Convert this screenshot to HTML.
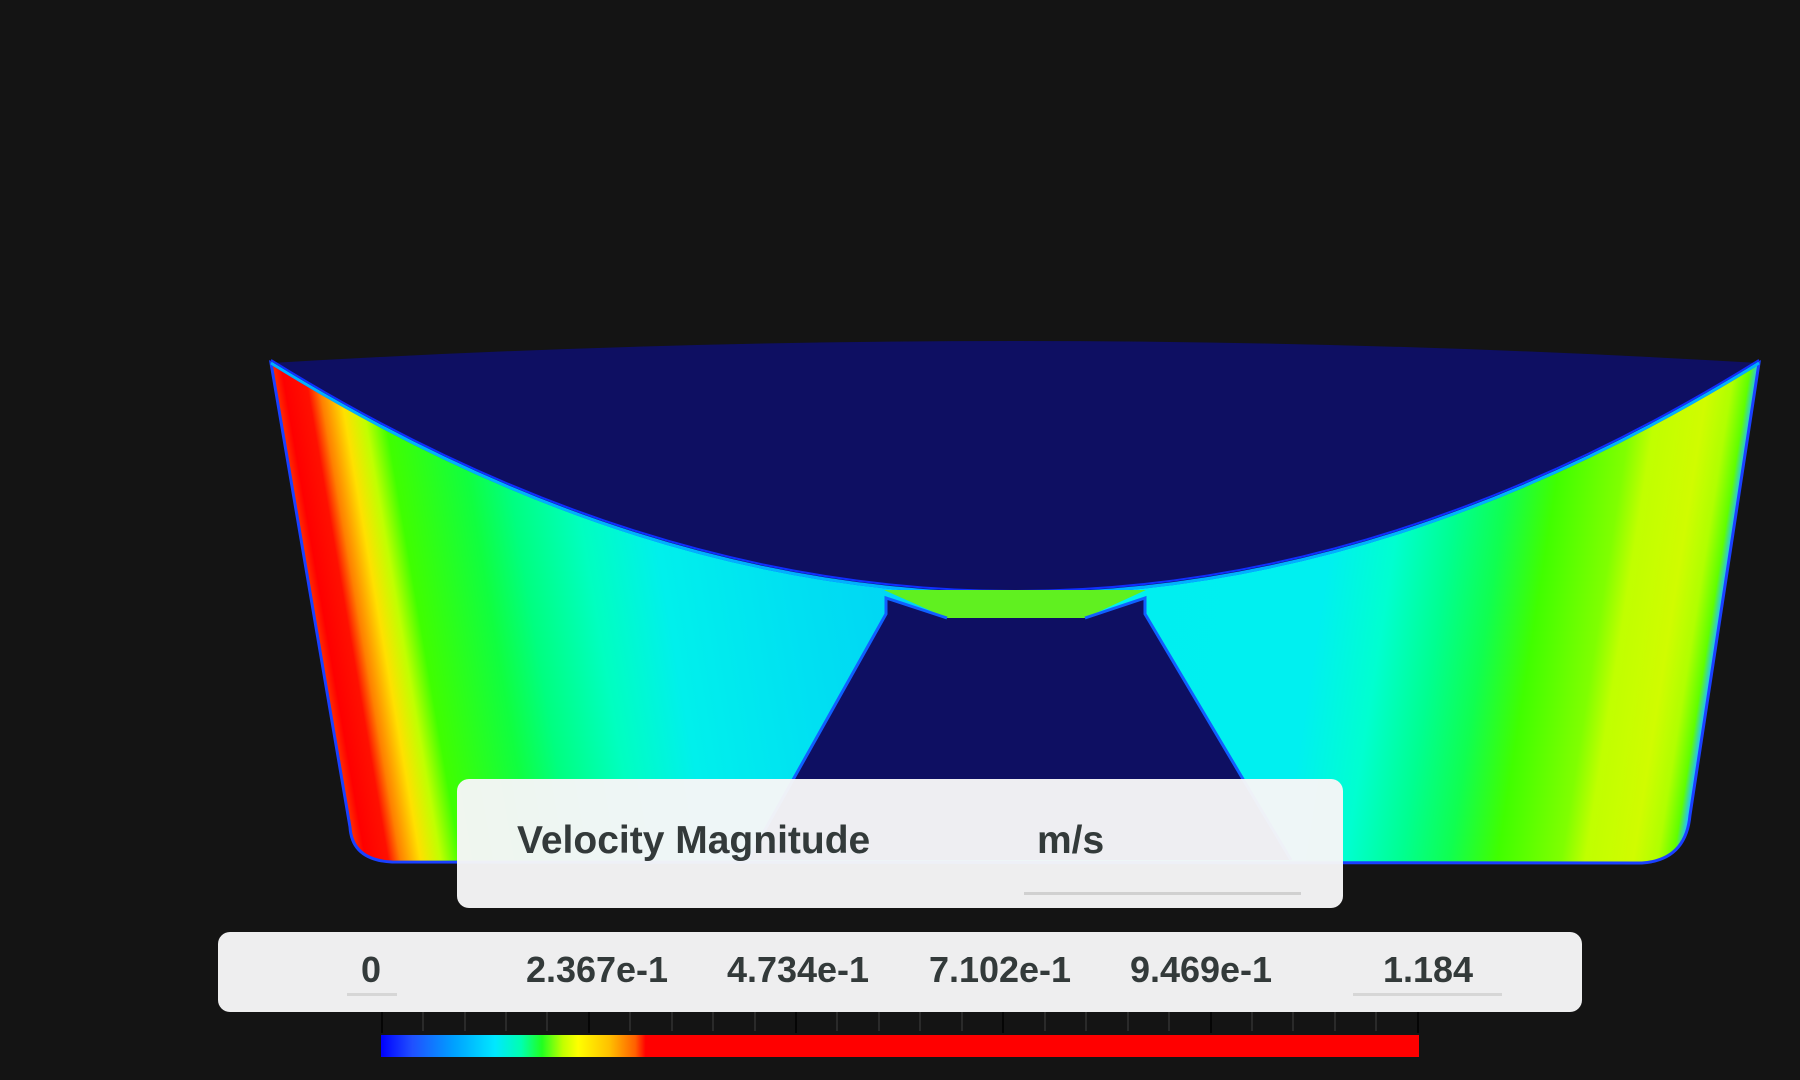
<!DOCTYPE html>
<html><head><meta charset="utf-8"><style>
html,body{margin:0;padding:0;background:#141414;width:1800px;height:1080px;overflow:hidden;font-family:"Liberation Sans",sans-serif}
.box{position:absolute;background:rgba(246,246,247,0.97);border-radius:12px}
.t{position:absolute;color:#333a3a;font-weight:bold;white-space:nowrap}
</style></head><body>
<svg width="1800" height="1080" style="position:absolute;left:0;top:0">
<defs>
<linearGradient id="fl" gradientUnits="userSpaceOnUse" x1="209" y1="0" x2="1016" y2="0" gradientTransform="skewX(9.7)">
<stop offset="0" stop-color="#ff3000"/>
<stop offset="0.012" stop-color="#ff0000"/>
<stop offset="0.04" stop-color="#ff1000"/>
<stop offset="0.055" stop-color="#ff8000"/>
<stop offset="0.08" stop-color="#ffe000"/>
<stop offset="0.105" stop-color="#c0ff00"/>
<stop offset="0.13" stop-color="#40ff00"/>
<stop offset="0.22" stop-color="#10ff40"/>
<stop offset="0.27" stop-color="#00ff80"/>
<stop offset="0.35" stop-color="#00ffc0"/>
<stop offset="0.44" stop-color="#00f0ec"/>
<stop offset="0.6" stop-color="#00e0f2"/>
<stop offset="0.75" stop-color="#00d4f4"/>
<stop offset="1" stop-color="#00d8f4"/>
</linearGradient>
<linearGradient id="fr" gradientUnits="userSpaceOnUse" x1="1816" y1="0" x2="1016" y2="0" gradientTransform="skewX(-8.9)">
<stop offset="0" stop-color="#20c0ff"/>
<stop offset="0.01" stop-color="#60ff00"/>
<stop offset="0.03" stop-color="#b0ff00"/>
<stop offset="0.06" stop-color="#d0fc00"/>
<stop offset="0.12" stop-color="#c0ff00"/>
<stop offset="0.15" stop-color="#80ff00"/>
<stop offset="0.23" stop-color="#40ff00"/>
<stop offset="0.29" stop-color="#10ff50"/>
<stop offset="0.35" stop-color="#00ff90"/>
<stop offset="0.42" stop-color="#00ffd0"/>
<stop offset="0.5" stop-color="#00f0f0"/>
<stop offset="1" stop-color="#00eef0"/>
</linearGradient>
<linearGradient id="cb" gradientUnits="userSpaceOnUse" x1="381" y1="0" x2="1419" y2="0">
<stop offset="0" stop-color="#0000ff"/>
<stop offset="0.03" stop-color="#2050ff"/>
<stop offset="0.07" stop-color="#00a0ff"/>
<stop offset="0.11" stop-color="#00e8ff"/>
<stop offset="0.135" stop-color="#00ffb0"/>
<stop offset="0.155" stop-color="#20ff20"/>
<stop offset="0.175" stop-color="#c0ff00"/>
<stop offset="0.19" stop-color="#ffff00"/>
<stop offset="0.22" stop-color="#ffc000"/>
<stop offset="0.245" stop-color="#ff6000"/>
<stop offset="0.255" stop-color="#ff0000"/>
<stop offset="1" stop-color="#ff0000"/>
</linearGradient>
<clipPath id="cl"><rect x="0" y="0" width="1017" height="1080"/></clipPath>
<clipPath id="cr"><rect x="1015" y="0" width="800" height="1080"/></clipPath>
</defs>
<path d="M271,363 Q1015,825 1759,363 L1690,815 Q1686,860 1642,863 L392,862 Q352,860 350,827 Z" fill="url(#fl)" clip-path="url(#cl)"/>
<path d="M271,363 Q1015,825 1759,363 L1690,815 Q1686,860 1642,863 L392,862 Q352,860 350,827 Z" fill="url(#fr)" clip-path="url(#cr)"/>
<path d="M271,363 Q1015,825 1759,363 L1690,815 Q1686,860 1642,863 L392,862 Q352,860 350,827 Z" fill="none" stroke="#1a40ff" stroke-width="3"/>
<path d="M271,363 Q1015,319 1759,363 Q1015,825 271,363 Z" fill="#0e0f62"/>
<path d="M271,363 Q1015,825 1759,363" fill="none" stroke="#00b0ff" stroke-width="3"/>
<path d="M271,363 Q1015,825 1759,363" fill="none" stroke="#1030ff" stroke-width="2" transform="translate(0,-3)"/>
<polygon points="884,590 1146,590 1085,618 947,618" fill="#60f020"/>
<polygon points="886,614 886,598 947,618 1085,618 1145,598 1145,614 1291,860 748,860" fill="#0e0f62"/>
<polyline points="748,860 886,614 886,598 947,618" fill="none" stroke="#1060ff" stroke-width="3"/>
<polyline points="1085,618 1145,598 1145,614 1291,860" fill="none" stroke="#1060ff" stroke-width="3"/>
<g stroke="#2a2a2a" stroke-width="2">
<line x1="423" y1="1012" x2="423" y2="1031"/><line x1="465" y1="1012" x2="465" y2="1031"/><line x1="506" y1="1012" x2="506" y2="1031"/><line x1="547" y1="1012" x2="547" y2="1031"/>
<line x1="630" y1="1012" x2="630" y2="1031"/><line x1="672" y1="1012" x2="672" y2="1031"/><line x1="713" y1="1012" x2="713" y2="1031"/><line x1="755" y1="1012" x2="755" y2="1031"/>
<line x1="837" y1="1012" x2="837" y2="1031"/><line x1="879" y1="1012" x2="879" y2="1031"/><line x1="920" y1="1012" x2="920" y2="1031"/><line x1="962" y1="1012" x2="962" y2="1031"/>
<line x1="1045" y1="1012" x2="1045" y2="1031"/><line x1="1086" y1="1012" x2="1086" y2="1031"/><line x1="1128" y1="1012" x2="1128" y2="1031"/><line x1="1169" y1="1012" x2="1169" y2="1031"/>
<line x1="1252" y1="1012" x2="1252" y2="1031"/><line x1="1293" y1="1012" x2="1293" y2="1031"/><line x1="1335" y1="1012" x2="1335" y2="1031"/><line x1="1376" y1="1012" x2="1376" y2="1031"/>
</g>
<g stroke="#050505" stroke-width="2">
<line x1="382" y1="1006" x2="382" y2="1033"/><line x1="589" y1="1006" x2="589" y2="1033"/><line x1="796" y1="1006" x2="796" y2="1033"/><line x1="1003" y1="1006" x2="1003" y2="1033"/><line x1="1211" y1="1006" x2="1211" y2="1033"/><line x1="1418" y1="1006" x2="1418" y2="1033"/>
</g>
<rect x="381" y="1035" width="1038" height="22" fill="url(#cb)"/>
</svg>
<div class="box" style="left:457px;top:779px;width:886px;height:129px"></div>
<div class="t" style="left:517px;top:819px;font-size:39px">Velocity Magnitude</div>
<div class="t" style="left:1037px;top:819px;font-size:39px">m/s</div>
<div style="position:absolute;left:1024px;top:892px;width:277px;height:3px;background:#d0d0d0"></div>
<div class="box" style="left:218px;top:932px;width:1364px;height:80px"></div>
<div class="t" style="left:371px;top:949px;font-size:36px;transform:translateX(-50%)">0</div>
<div class="t" style="left:597px;top:949px;font-size:36px;transform:translateX(-50%)">2.367e-1</div>
<div class="t" style="left:798px;top:949px;font-size:36px;transform:translateX(-50%)">4.734e-1</div>
<div class="t" style="left:1000px;top:949px;font-size:36px;transform:translateX(-50%)">7.102e-1</div>
<div class="t" style="left:1201px;top:949px;font-size:36px;transform:translateX(-50%)">9.469e-1</div>
<div class="t" style="left:1428px;top:949px;font-size:36px;transform:translateX(-50%)">1.184</div>
<div style="position:absolute;left:347px;top:993px;width:50px;height:3px;background:#d6d6d6"></div>
<div style="position:absolute;left:1353px;top:993px;width:149px;height:3px;background:#d6d6d6"></div>
</body></html>
